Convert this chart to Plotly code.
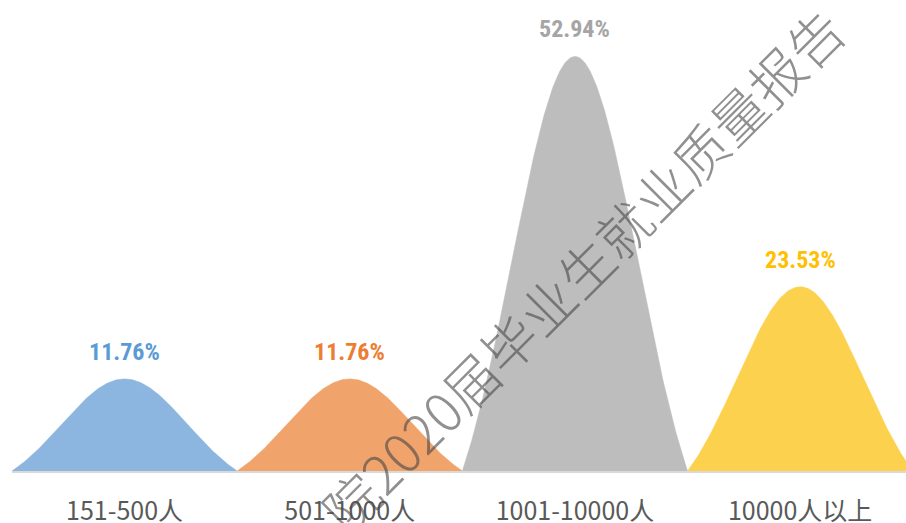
import numpy as np
import plotly.graph_objects as go

categories = ["151-500人", "501-1000人", "1001-10000人", "10000人以上"]
values = [11.76, 11.76, 52.94, 23.53]
labels = ["11.76%", "11.76%", "52.94%", "23.53%"]
fill_colors = ["#8CB6E0", "#F0A46C", "#BDBDBD", "#FCD14E"]
label_colors = ["#5B9BD5", "#ED7D31", "#A5A5A5", "#FFC000"]
watermark = "院2020届毕业生就业质量报告"

W, H = 906, 523
ML, MB = 12, 51.5
PLOT_H = H - MB
PX_PER_PCT = 7.84

fig = go.Figure()

# bell shape (unit height) used for each category's hump
half = 0.5
sigma = 0.28
t = np.linspace(-half, half, 201)
g = np.exp(-t**2 / (2 * sigma**2))
e0 = np.exp(-half**2 / (2 * sigma**2))
shape = (g - e0) / (1 - e0)

for i, (cat, v) in enumerate(zip(categories, values)):
    fig.add_trace(go.Scatter(
        x=i + t, y=v * shape, mode="lines", fill="tozeroy",
        fillcolor=fill_colors[i], line=dict(color=fill_colors[i], width=0.5),
        hoverinfo="skip", showlegend=False,
    ))
    fig.add_annotation(
        x=i, y=v, text=f"<b>{labels[i]}</b>", showarrow=False,
        yanchor="middle", yshift=27,
        font=dict(family="Roboto Condensed, Liberation Sans Narrow, DejaVu Sans Condensed, sans-serif",
                  size=24, color=label_colors[i]),
    )

# watermark
wx, wy = 582, 269
fig.add_annotation(
    xref="paper", yref="paper",
    x=(wx - ML) / (W - ML), y=(PLOT_H - wy) / PLOT_H,
    text=watermark, showarrow=False, textangle=-45,
    xanchor="center", yanchor="middle",
    font=dict(family="Noto Sans CJK SC", size=54, color="rgba(70,70,70,0.6)", weight=300),
)

fig.update_layout(
    width=W, height=H,
    margin=dict(l=ML, r=0, t=0, b=MB, autoexpand=False),
    paper_bgcolor="white", plot_bgcolor="white",
    xaxis=dict(
        range=[-0.5, 3.47], tickmode="array", tickvals=list(range(len(categories))),
        ticktext=categories, showgrid=False, zeroline=False,
        showline=True, linecolor="#D9D9D9", linewidth=2,
        ticks="", ticklabelstandoff=17, automargin=False,
        tickfont=dict(family="Noto Sans CJK SC", size=25, color="#595959"),
    ),
    yaxis=dict(range=[0, PLOT_H / PX_PER_PCT], visible=False, showgrid=False,
               zeroline=False, automargin=False),
)

fig.write_html("out.html", config={"displayModeBar": False},
               post_script="document.body.style.margin='0';document.body.style.overflow='hidden';")
